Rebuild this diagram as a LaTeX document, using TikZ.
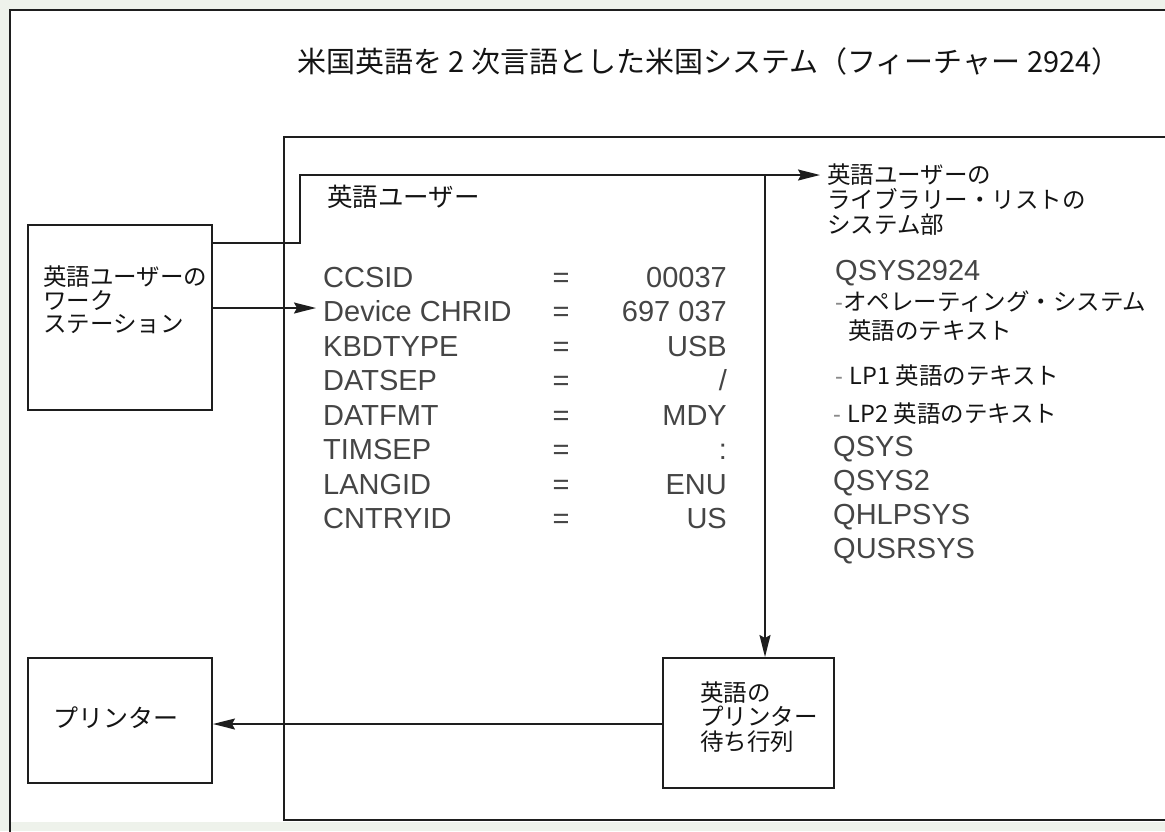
\documentclass[tikz,border=0pt]{standalone}
\usepackage{fontspec}
\setmainfont{Noto Sans CJK JP}
\newfontfamily\arialf{Liberation Sans}
\usetikzlibrary{arrows.meta}
\definecolor{ink}{HTML}{1E1E1E}
\definecolor{gtext}{HTML}{454545}
\definecolor{dashc}{HTML}{8A8A8A}
\definecolor{bgc}{HTML}{EEF2EB}
\begin{document}
\begin{tikzpicture}[x=1pt,y=-1pt,
  box/.style={draw=ink, line width=2pt, inner sep=0pt},
  arr/.style={draw=ink, line width=1.6pt, -{Stealth[length=22pt,width=11pt,inset=3pt]}},
  jp/.style={anchor=base west, inner sep=0pt, text=black!92, font=\fontsize{23.5}{24.5}\selectfont},
  ar/.style={anchor=base west, inner sep=0pt, text=gtext, font=\arialf\fontsize{29}{34}\selectfont},
  eq/.style={anchor=base, inner sep=0pt, text=gtext, font=\arialf\fontsize{29}{34}\selectfont},
  val/.style={anchor=base east, inner sep=0pt, text=gtext, font=\arialf\fontsize{29}{34}\selectfont}]
\useasboundingbox (0,0) rectangle (1165,831);
\fill[bgc] (0,0) rectangle (1165,831);
\fill[white] (10,10) rectangle (1180,822);
\draw[ink, line width=2.6pt] (1180,10) -- (10,10) -- (10,840);
% inner system rectangle
\draw[box] (284,137) rectangle (1180,820);
% title
\node[anchor=base west, inner sep=0pt, text=black!92, font=\fontsize{29}{34}\selectfont] (title) at (297,72) {米国英語を 2 次言語とした米国システム（フィーチャー 2924）};
% boxes
\node[box, minimum width=184pt, minimum height=185pt] (ws) at (120,317.5) {};
\node[box, minimum width=184pt, minimum height=125pt] (printer) at (120,720.5) {};
\node[box, minimum width=171pt, minimum height=130pt] (queue) at (748.5,723) {};
% box texts
\node[jp] (ws1) at (43,285) {英語ユーザーの};
\node[jp] (ws2) at (43,309) {ワーク};
\node[jp] (ws3) at (43,332) {ステーション};
\node[jp, font=\fontsize{25}{26}\selectfont] (ptext) at (53,727) {プリンター};
\node[jp] (q1) at (700,701) {英語の};
\node[jp] (q2) at (700,725) {プリンター};
\node[jp] (q3) at (700,750) {待ち行列};
% user label
\node[jp, font=\fontsize{25.5}{26}\selectfont] (eu) at (327,206) {英語ユーザー};
% parameter table
\node[ar] (p1) at (323,287) {CCSID};        \node[eq] (e1) at (561,287) {=}; \node[val] (v1) at (727,287) {00037};
\node[ar] (p2) at (323,321.5) {Device CHRID}; \node[eq] (e2) at (561,321.5) {=}; \node[val] (v2) at (727,321.5) {697 037};
\node[ar] (p3) at (323,356) {KBDTYPE};      \node[eq] (e3) at (561,356) {=}; \node[val] (v3) at (727,356) {USB};
\node[ar] (p4) at (323,390.5) {DATSEP};     \node[eq] (e4) at (561,390.5) {=}; \node[val] (v4) at (727,390.5) {/};
\node[ar] (p5) at (323,425) {DATFMT};       \node[eq] (e5) at (561,425) {=}; \node[val] (v5) at (727,425) {MDY};
\node[ar] (p6) at (323,459.5) {TIMSEP};     \node[eq] (e6) at (561,459.5) {=}; \node[val] (v6) at (727,459.5) {:};
\node[ar] (p7) at (323,494) {LANGID};       \node[eq] (e7) at (561,494) {=}; \node[val] (v7) at (727,494) {ENU};
\node[ar] (p8) at (323,528.5) {CNTRYID};    \node[eq] (e8) at (561,528.5) {=}; \node[val] (v8) at (727,528.5) {US};
% library list
\node[jp] (lib1) at (827,183) {英語ユーザーの};
\node[jp] (lib2) at (827,208) {ライブラリー・リストの};
\node[jp] (lib3) at (827,233) {システム部};
\node[ar] (l1) at (835,280) {QSYS2924};
\node[jp] (l2) at (835,310) {{\arialf\color{dashc}-}オペレーティング・システム};
\node[jp] (l3) at (848,339) {英語のテキスト};
\node[jp] (l4) at (835,384) {{\arialf\color{dashc}- }LP1 英語のテキスト};
\node[jp] (l5) at (833,422) {{\arialf\color{dashc}- }LP2 英語のテキスト};
\node[ar] (l6) at (833,456) {QSYS};
\node[ar] (l7) at (833,490) {QSYS2};
\node[ar] (l8) at (833,524) {QHLPSYS};
\node[ar] (l9) at (833,558) {QUSRSYS};
% connectors
\coordinate (c1) at (300,243);
\coordinate (c2) at (820,175);
\coordinate (c3) at (765,175);
\coordinate (c4) at (316,308);
\coordinate (c5) at (663,724);
\draw[arr] (ws.east |- c1) -- (c1) |- (c2);
\draw[arr] (c3) -- (c3 |- queue.north);
\draw[arr] (ws.east |- c4) -- (c4);
\draw[arr] (c5) -- (printer.east |- c5);
\end{tikzpicture}
\end{document}
